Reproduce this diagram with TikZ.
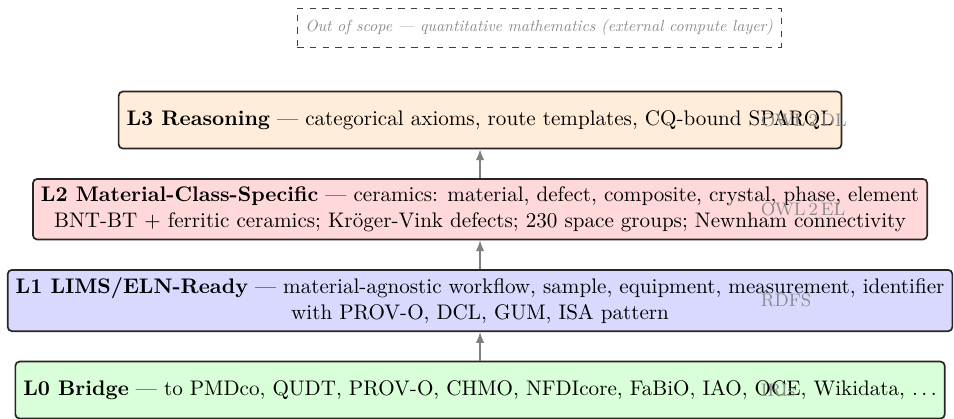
\documentclass[tikz,border=0pt]{standalone}
\usepackage{graphicx}
\usepackage{tikz}
\usetikzlibrary{arrows.meta,calc,positioning}
\definecolor{layThree}{HTML}{FFECD9}
\definecolor{layTwo}{HTML}{FFD9D9}
\definecolor{layOne}{HTML}{D9D9FF}
\definecolor{layZero}{HTML}{D9FFD9}
\tikzset{
  >={Latex[length=1.8mm,width=1.4mm]},
  every node/.style={font=\normalsize},
  layer/.style={draw=black!85, rounded corners=2pt, line width=0.8pt, minimum height=27pt, inner sep=3.8pt, align=center},
  lift/.style={->, line width=0.6pt, draw=black!50},
  exprtag/.style={font=\fontsize{8.6}{10}\selectfont, text=black!45, anchor=west},
  scopebox/.style={draw=black!75, dashed, inner xsep=3.8pt, inner ysep=5.4pt, text=black!45, font=\itshape},
}

\begin{document}
\begin{tikzpicture}[x=1pt,y=1pt]
  \useasboundingbox (-227.5,56.9) rectangle (224.6,-141.2);

  % layer stack
  \node[layer, fill=layThree] (l3) at (0,0) {\textbf{L3 Reasoning} --- categorical axioms, route templates, CQ-bound SPARQL};
  \node[layer, fill=layTwo, below=13.6pt of l3] (l2) {\textbf{L2 Material-Class-Specific} --- ceramics: material, defect, composite, crystal, phase, element\\
    BNT-BT + ferritic ceramics; Kr\"oger-Vink defects; 230 space groups; Newnham connectivity};
  \node[layer, fill=layOne, below=13.6pt of l2] (l1) {\textbf{L1 LIMS/ELN-Ready} --- material-agnostic workflow, sample, equipment, measurement, identifier\\
    with PROV-O, DCL, GUM, ISA pattern};
  \node[layer, fill=layZero, below=13.6pt of l1] (l0) {\textbf{L0 Bridge} --- to PMDco, QUDT, PROV-O, CHMO, NFDIcore, FaBiO, IAO, OCE, Wikidata, $\ldots$};

  % out of scope
  \node[scopebox] (oos) at (28,43.8) {\scalebox{0.76}{Out of scope --- quantitative mathematics (external compute layer)}};

  % import arrows
  \draw[lift] (l0) -- (l1);
  \draw[lift] (l1) -- (l2);
  \draw[lift] (l2) -- (l3);

  % expressivity tags
  \node[exprtag] (e3) at ($(l3.center)+(129.5,0)$) {OWL\,2\,DL};
  \node[exprtag] (e2) at ($(l2.center)+(129.5,0)$) {OWL\,2\,EL};
  \node[exprtag] (e1) at ($(l1.center)+(129.5,0)$) {RDFS};
  \node[exprtag] (e0) at ($(l0.center)+(129.5,0)$) {IRIs};
\end{tikzpicture}
\end{document}
